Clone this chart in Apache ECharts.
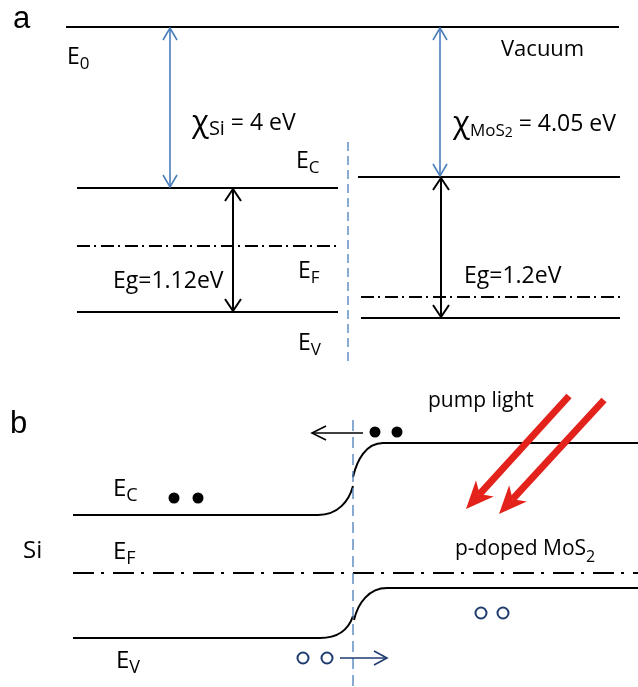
<!DOCTYPE html>
<html>
<head>
<meta charset="utf-8">
<script src="https://cdn.jsdelivr.net/npm/echarts@6/dist/echarts.min.js"></script>
<style>
html,body{margin:0;padding:0;background:#fff;}
#chart{width:638px;height:687px;}
</style>
</head>
<body>
<div id="chart"></div>
<script>
// ---------------- Panel a (schematic units, y grows downward) ----------------
// flat levels: [xStart, xEnd, y]
const levelsA = [
  [66, 619, 27],    // E0 vacuum level
  [77, 338, 188],   // Si Ec
  [77, 338, 312],   // Si Ev
  [358, 620, 177],  // MoS2 Ec
  [361, 620, 318]   // MoS2 Ev
];
const fermiA = [
  [77, 336, 246],   // Si EF
  [361, 620, 297]   // MoS2 EF
];
const interfaceA = [[348, 142, 366]];          // [x, yTop, yBottom]
const affinityArrows = [[170, 28, 170, 187], [440, 28, 440, 176]]; // [x1,y1,x2,y2]
const gapArrows = [[233, 189, 233, 311], [441, 178, 441, 317]];

// ---------------- Panel b ----------------
const flatBandsB = [
  [73, 318, 515],   // Si Ec
  [383, 638, 443],  // MoS2 Ec
  [73, 320, 638],   // Si Ev
  [387, 638, 588]   // MoS2 Ev
];
// bent parts: [x0,y0, c1x,c1y, c2x,c2y, x1,y1]
const bentBandsB = [
  [318, 515, 338, 515, 349, 501, 353, 486],
  [353, 477, 357, 460, 366, 443, 383, 443],
  [320, 638, 340, 638, 349, 628, 353, 616],
  [354, 620, 358, 603, 369, 588, 387, 588]
];
const fermiB = [[73, 638, 573]];
const interfaceB = [[353, 420, 687]];
const electrons = [[174, 498], [198, 498], [375, 432], [397, 432]];
const holes = [[303, 658], [327, 658], [481, 613], [503, 613]];
const electronDrift = [[363, 433, 312, 433]];
const holeDrift = [[340, 658, 387, 658]];
const pumpArrows = [[569, 396, 466, 509], [604, 400, 499, 514]];

// ---------------- Texts: [x, y, text] ----------------
const panelTags = [[13, 19, 'a'], [10, 424, 'b']];
const labelsA = [
  [67, 57, 'E{s|0}'],
  [192, 123, '{x|χ}{b|Si}{m| = 4 eV}'],
  [296, 161, 'E{s|C}'],
  [298, 271, 'E{s|F}'],
  [298, 343, 'E{s|V}'],
  [113, 281, 'Eg=1.12eV'],
  [453, 124, '{x|χ}{s|MoS}{ss|2}{m| = 4.05 eV}'],
  [464, 276, 'Eg=1.2eV']
];
const vacuumLabel = [[501, 50, 'Vacuum']];
const labelsB = [
  [113, 489, 'E{s|C}'],
  [113, 552, 'E{s|F}'],
  [116, 661, 'E{s|V}'],
  [23, 551, 'Si']
];
const notesB = [
  [428, 401, 'pump light'],
  [455, 549, 'p-doped MoS{t|2}']
];

// ---------------- rendering ----------------
const FONT = '"Open Sans", Lato, sans-serif';
const BLUE = '#4a7ebb';
const NAVY = '#1f3b70';

function levelSeries(data, color, width, dash) {
  return {
    type: 'custom', silent: true, clip: false, data: data,
    renderItem: function (params, api) {
      const a = api.coord([api.value(0), api.value(2)]);
      const b = api.coord([api.value(1), api.value(2)]);
      return { type: 'line', shape: { x1: a[0], y1: a[1], x2: b[0], y2: b[1] },
        style: { stroke: color, lineWidth: width, lineDash: dash || null } };
    }
  };
}
function vlineSeries(data, color, width, dash) {
  return {
    type: 'custom', silent: true, clip: false, data: data,
    renderItem: function (params, api) {
      const a = api.coord([api.value(0), api.value(1)]);
      const b = api.coord([api.value(0), api.value(2)]);
      return { type: 'line', shape: { x1: a[0], y1: a[1], x2: b[0], y2: b[1] },
        style: { stroke: color, lineWidth: width, lineDash: dash } };
    }
  };
}
function chevron(tip, from, L, W) {
  const dx = tip[0] - from[0], dy = tip[1] - from[1];
  const len = Math.sqrt(dx * dx + dy * dy);
  const ux = dx / len, uy = dy / len, nx = -uy, ny = ux;
  return [[tip[0] - L * ux + W * nx, tip[1] - L * uy + W * ny], tip,
          [tip[0] - L * ux - W * nx, tip[1] - L * uy - W * ny]];
}
function arrowSeries(data, color, width, L, W, both) {
  return {
    type: 'custom', silent: true, clip: false, data: data,
    renderItem: function (params, api) {
      const a = api.coord([api.value(0), api.value(1)]);
      const b = api.coord([api.value(2), api.value(3)]);
      const st = { stroke: color, lineWidth: width, fill: null, lineJoin: 'miter' };
      const ch = [
        { type: 'line', shape: { x1: a[0], y1: a[1], x2: b[0], y2: b[1] }, style: st },
        { type: 'polyline', shape: { points: chevron(b, a, L, W) }, style: st }
      ];
      if (both) ch.push({ type: 'polyline', shape: { points: chevron(a, b, L, W) }, style: st });
      return { type: 'group', children: ch };
    }
  };
}
function pumpSeries(data, color) {
  return {
    type: 'custom', silent: true, clip: false, data: data,
    renderItem: function (params, api) {
      const a = api.coord([api.value(0), api.value(1)]);
      const b = api.coord([api.value(2), api.value(3)]);
      const dx = b[0] - a[0], dy = b[1] - a[1];
      const len = Math.sqrt(dx * dx + dy * dy);
      const ux = dx / len, uy = dy / len, nx = -uy, ny = ux;
      const L = 28, W = 12;
      const neck = [b[0] - 0.72 * L * ux, b[1] - 0.72 * L * uy];
      return { type: 'group', children: [
        { type: 'line', shape: { x1: a[0], y1: a[1], x2: neck[0], y2: neck[1] },
          style: { stroke: color, lineWidth: 7 } },
        { type: 'polygon', shape: { points: [
            b,
            [b[0] - L * ux + W * nx, b[1] - L * uy + W * ny],
            neck,
            [b[0] - L * ux - W * nx, b[1] - L * uy - W * ny]] },
          style: { fill: color } }
      ] };
    }
  };
}
function bentSeries(data, color, width) {
  return {
    type: 'custom', silent: true, clip: false, data: data,
    renderItem: function (params, api) {
      const p0 = api.coord([api.value(0), api.value(1)]);
      const c1 = api.coord([api.value(2), api.value(3)]);
      const c2 = api.coord([api.value(4), api.value(5)]);
      const p1 = api.coord([api.value(6), api.value(7)]);
      return { type: 'bezierCurve',
        shape: { x1: p0[0], y1: p0[1], cpx1: c1[0], cpy1: c1[1], cpx2: c2[0], cpy2: c2[1], x2: p1[0], y2: p1[1] },
        style: { stroke: color, lineWidth: width, fill: null } };
    }
  };
}
function richFor(size, family) {
  const sub = Math.round(size * 0.74);
  return {
    m: { fontSize: size, fontFamily: family, lineHeight: 32 },
    x: { fontSize: Math.round(size * 1.35), fontFamily: family, lineHeight: 32 },
    s: { fontSize: sub, fontFamily: family, lineHeight: 16, verticalAlign: 'bottom' },
    b: { fontSize: Math.round(size * 0.86), fontFamily: family, lineHeight: 22, verticalAlign: 'bottom' },
    ss: { fontSize: Math.round(sub * 0.8), fontFamily: family, lineHeight: 6, verticalAlign: 'bottom' },
    t: { fontSize: sub, fontFamily: family, lineHeight: 23, verticalAlign: 'bottom' }
  };
}
function textSeries(list, size, family, color) {
  const rich = richFor(size, family);
  return {
    type: 'custom', silent: true, clip: false,
    data: list.map(function (d) { return [d[0], d[1]]; }),
    renderItem: function (params, api) {
      const p = api.coord([api.value(0), api.value(1)]);
      return { type: 'text', x: p[0], y: p[1],
        style: { text: list[params.dataIndex][2], fontSize: size, fontFamily: family,
          fill: color || '#000', align: 'left', verticalAlign: 'middle', lineHeight: 32, rich: rich } };
    }
  };
}

const chart = echarts.init(document.getElementById('chart'));
chart.setOption({
  animation: false,
  backgroundColor: '#fff',
  grid: { left: 0, right: 0, top: 0, bottom: 0 },
  xAxis: { type: 'value', min: 0, max: 638, show: false },
  yAxis: { type: 'value', min: 0, max: 687, inverse: true, show: false },
  series: [
    levelSeries(levelsA, '#000', 2),
    levelSeries(fermiA, '#000', 2, [13, 4, 2, 5]),
    vlineSeries(interfaceA, BLUE, 1.3, [9, 5]),
    arrowSeries(affinityArrows, BLUE, 1.6, 12, 7, true),
    arrowSeries(gapArrows, '#000', 2, 12, 8, true),

    levelSeries(flatBandsB, '#000', 2),
    bentSeries(bentBandsB, '#000', 2),
    levelSeries(fermiB, '#000', 2, [21, 7, 3, 9]),
    vlineSeries(interfaceB, BLUE, 1.3, [11, 6]),
    arrowSeries(electronDrift, '#000', 1.6, 14, 7, false),
    arrowSeries(holeDrift, NAVY, 1.6, 13, 7, false),
    pumpSeries(pumpArrows, '#e3231b'),
    { type: 'scatter', silent: true, data: electrons, symbol: 'circle', symbolSize: 11,
      itemStyle: { color: '#000', opacity: 1 } },
    { type: 'scatter', silent: true, data: holes, symbol: 'circle', symbolSize: 11,
      itemStyle: { color: '#fff', borderColor: NAVY, borderWidth: 2, opacity: 1 } },

    textSeries(panelTags, 31, '"Liberation Sans", Arial, sans-serif'),
    textSeries(labelsA, 23, FONT),
    textSeries(vacuumLabel, 22, FONT),
    textSeries(labelsB, 24, FONT),
    textSeries(notesB, 21, FONT)
  ]
});
</script>
</body>
</html>
